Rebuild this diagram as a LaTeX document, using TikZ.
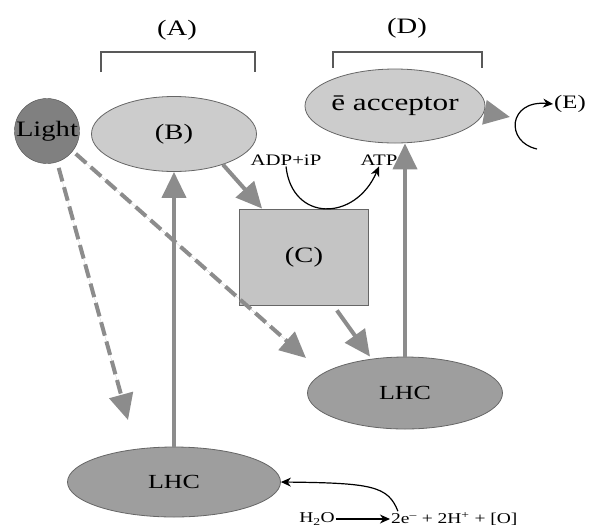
\documentclass[tikz,border=0pt]{standalone}
\usepackage{fontspec}
\setmainfont[FakeStretch=1.3]{Liberation Serif}
\usepackage{tikz}
\usetikzlibrary{shapes.geometric, arrows.meta, positioning}
\tikzstyle{bubble} = [draw=black!60, ellipse, inner sep=0pt, line width=0.8pt]
\tikzstyle{pale} = [bubble, fill=black!20]
\tikzstyle{dark} = [bubble, fill=black!38]
\tikzstyle{biglabel} = [font=\fontsize{22}{24}\selectfont]
\tikzstyle{smalllabel} = [font=\fontsize{16}{18}\selectfont, inner sep=1pt]
\tikzstyle{tinylabel} = [font=\fontsize{15}{17}\selectfont, inner sep=1pt]
\tikzstyle{grayarrow} = [-{Triangle[length=26pt,width=24pt]}, line width=4pt, draw=black!45, fill=black!45]
\tikzstyle{dasharrow} = [grayarrow, dash pattern=on 14pt off 6pt]
\tikzstyle{thinarrow} = [-{Stealth[length=10pt,width=9pt]}, line width=1.2pt]
\tikzstyle{bracket} = [draw=black!65, line width=1.5pt]

\begin{document}
\begin{tikzpicture}[x=1pt, y=-1pt]
		\useasboundingbox (0,0) rectangle (589,531);
		\node (label_a) [biglabel] at (177,30) {(A)};
		\node (label_d) [biglabel] at (407,28) {(D)};
		\draw [bracket] (101,72) |- (255,52) -- (255,72);
		\draw [bracket] (333,68) |- (482,52) -- (482,68);
		\node (light) [circle, draw=black!70, fill=black!50, minimum size=65pt,
		inner sep=0pt, font=\fontsize{22}{24}\selectfont] at (47,131) {Light};
		\node (site_b) [pale, biglabel, minimum width=165pt, minimum height=75pt] at (174,134) {(B)};
		\node (acceptor) [pale, minimum width=165pt, minimum height=74pt,
		font=\fontsize{24}{26}\selectfont] at (395,106) {\={e} acceptor};
		\node (box_c) [draw=black!60, fill=black!23, line width=0.8pt, biglabel,
		minimum width=129pt, minimum height=96pt] at (304,257) {(C)};
		\node (lhc_right) [dark, minimum width=195pt, minimum height=72pt,
		font=\fontsize{20}{22}\selectfont] at (405,393) {LHC};
		\node (lhc_bottom) [dark, minimum width=213pt, minimum height=70pt,
		font=\fontsize{20}{22}\selectfont] at (174,482) {LHC};
		\node (label_e) [font=\fontsize{19}{21}\selectfont, anchor=west, inner sep=1pt] at (553,104) {(E)};
		\node (adp) [smalllabel] at (286,160) {ADP+iP};
		\node (atp) [smalllabel] at (379,160) {ATP};
		\node (water) [tinylabel] at (317,519) {H\textsubscript{2}O};
		\node (products) [tinylabel, right = 54pt of water] {2e\textsuperscript{--} + 2H\textsuperscript{+} + [O]};
		\coordinate (light_tip) at (128,420);
		\coordinate (light_end) at (306,358);
		\coordinate (acceptor_tip) at (510,117);
		\coordinate (curl_start) at (537,149);
		% grey flow arrows
		\draw [grayarrow] (lhc_bottom.north) -- (site_b.south);
		\draw [grayarrow] (lhc_right.north) -- (lhc_right.north |- acceptor.south);
		\draw [grayarrow] (site_b.-32) -- ([xshift=23pt]box_c.north west);
		\draw [grayarrow] ([xshift=-32pt, yshift=-5pt]box_c.south east) -- ([xshift=-35pt]lhc_right.north);
		\draw [grayarrow] (acceptor.-4) -- (acceptor_tip);
		\draw [dasharrow, shorten <=6pt] (light.-72) -- (light_tip);
		\draw [dasharrow, shorten <=4pt] (light.-38) -- (light_end);
		% black arrows
		\draw [thinarrow] (adp.south) .. controls (292,222) and (355,222) .. (atp.south);
		\draw [thinarrow] (curl_start) .. controls (505,142) and (508,100) .. (label_e.west);
		\draw [thinarrow] (water) -- (products);
		\draw [thinarrow] ([xshift=8pt]products.north west) .. controls (388,486) and (372,483) .. (lhc_bottom.east);
	\end{tikzpicture}
\end{document}
